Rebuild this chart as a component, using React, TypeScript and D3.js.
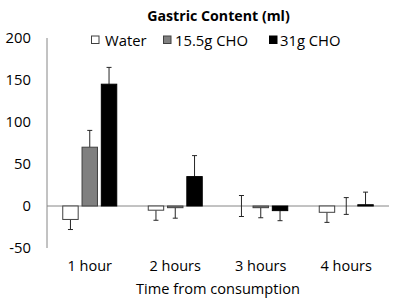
import React from "react";
import * as d3 from "d3";

const categories = ["1 hour", "2 hours", "3 hours", "4 hours"];
const series = ["Water", "15.5g CHO", "31g CHO"];
const waterValues = [-16, -5, 0, -7.5];
const waterErrors = [12, 12, 12.5, 12];
const cho15Values = [70, -2, -2, 0];
const cho15Errors = [20, 12.5, 12, 10];
const cho31Values = [145, 35, -5.5, 1.5];
const cho31Errors = [20, 25, 12, 15];
const yTicks = [-50, 0, 50, 100, 150, 200];
const title = "Gastric Content (ml)";
const xTitle = "Time from consumption";

const seriesValues = [waterValues, cho15Values, cho31Values];
const seriesErrors = [waterErrors, cho15Errors, cho31Errors];
const fills = ["#ffffff", "#808080", "#000000"];
const strokes = ["#404040", "#404040", "#000000"];

const W = 400;
const H = 298;
const FONT = "'Open Sans', sans-serif";

export default function App() {
  const x0 = d3.scaleBand<string>().domain(categories).range([47, 389]).padding(0);
  const x1 = d3.scaleBand<string>().domain(series).range([-27, 27]).paddingInner(0.2).paddingOuter(0);
  const y = d3.scaleLinear().domain([-50, 200]).range([248, 38]);

  const bars: React.ReactNode[] = [];
  const errs: React.ReactNode[] = [];
  series.forEach((s, si) => {
    categories.forEach((c, ci) => {
      const v = seriesValues[si][ci];
      const e = seriesErrors[si][ci];
      const cx = (x0(c) as number) + x0.bandwidth() / 2;
      const bx = cx + (x1(s) as number);
      const bw = x1.bandwidth();
      const yTop = y(Math.max(0, v));
      const yBot = y(Math.min(0, v));
      if (v !== 0) {
        bars.push(
          <rect key={`b${si}-${ci}`} x={bx} y={yTop} width={bw} height={Math.max(0.5, yBot - yTop)}
            fill={fills[si]} stroke={strokes[si]} strokeWidth={1} />
        );
      }
      const mx = bx + bw / 2;
      const ends: number[] = [];
      if (v > 0) ends.push(v + e);
      else if (v < 0) ends.push(v - e);
      else { ends.push(v + e); ends.push(v - e); }
      ends.forEach((end, k) => {
        errs.push(
          <g key={`e${si}-${ci}-${k}`} stroke="#262626" strokeWidth={1}>
            <line x1={mx} x2={mx} y1={y(v)} y2={y(end)} />
            <line x1={mx - 2.5} x2={mx + 2.5} y1={y(end)} y2={y(end)} />
          </g>
        );
      });
    });
  });

  const legendItems = [
    { label: series[0], x: 91, tx: 105 },
    { label: series[1], x: 163, tx: 175 },
    { label: series[2], x: 269, tx: 280 },
  ];

  return (
    <svg width={W} height={H} style={{ position: "absolute", left: 0, top: 0, background: "#fff" }}
      fontFamily={FONT}>
      <text x={218.5} y={20.5} textAnchor="middle" fontWeight="bold" fontSize={14.2} fill="#000">{title}</text>
      {legendItems.map((it, i) => (
        <g key={`l${i}`}>
          <rect x={it.x + 0.5} y={36} width={7.5} height={7.5} fill={fills[i]} stroke={strokes[i]} strokeWidth={1} />
          <text x={it.tx} y={45.5} fontSize={14.8} fill="#000">{it.label}</text>
        </g>
      ))}
      {yTicks.map((t) => (
        <text key={`t${t}`} x={31} y={y(t) + 5.2} textAnchor="end" fontSize={14.8} fill="#000">{t}</text>
      ))}
      <line x1={47} x2={47} y1={38} y2={248} stroke="#868686" strokeWidth={1} />
      <line x1={47} x2={389} y1={y(0)} y2={y(0)} stroke="#868686" strokeWidth={1} />
      {errs}
      {bars}
      {categories.map((c) => (
        <text key={`c${c}`} x={(x0(c) as number) + x0.bandwidth() / 2} y={271} textAnchor="middle" fontSize={14.5} fill="#000">{c}</text>
      ))}
      <text x={218} y={293.5} textAnchor="middle" fontSize={14.6} fill="#000">{xTitle}</text>
    </svg>
  );
}
